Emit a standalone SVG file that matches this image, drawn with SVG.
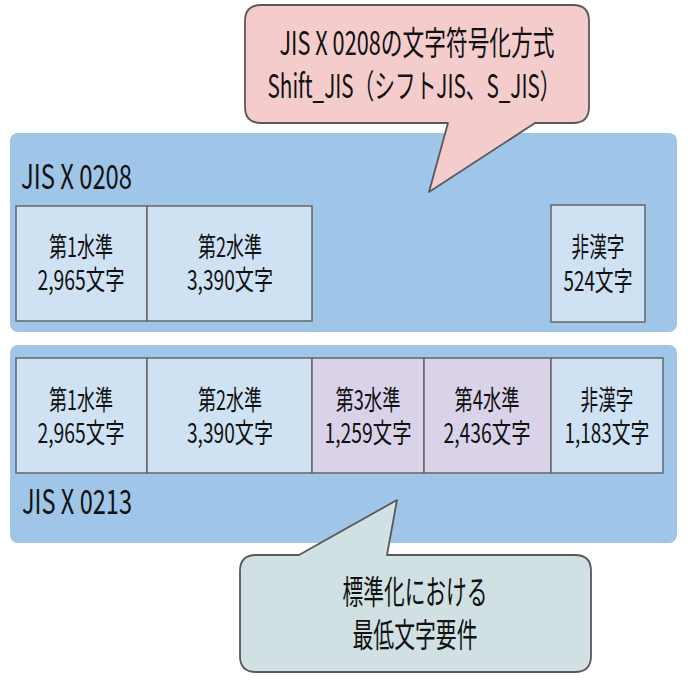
<svg xmlns="http://www.w3.org/2000/svg" width="689" height="689" viewBox="0 0 689 689">
<style>
.panel{fill:#9FC5E8;stroke:none}
.cell{fill:#CFE2F3;stroke:#666666;stroke-width:1.5}
.cell4{fill:#D9D2E9;stroke:#666666;stroke-width:1.5}
.t{font-family:"Noto Sans CJK JP","Noto Sans",sans-serif;fill:#111111;text-anchor:middle}
.cl{font-size:27px}
.lbl{font-size:34px;text-anchor:start}
.co{font-size:33px}
</style>
<rect width="689" height="689" fill="#ffffff"/>
<g id="panel-0208">
<rect class="panel" x="10" y="133" width="667" height="199" rx="8"/>
<text class="t lbl" x="21" y="189" textLength="111" lengthAdjust="spacingAndGlyphs">JIS X 0208</text>
</g>
<g id="cell-0208-1">
<rect class="cell" x="16" y="206" width="131" height="115"/>
<text class="t cl" x="81" y="257" textLength="64" lengthAdjust="spacingAndGlyphs">第1水準</text>
<text class="t cl" x="81" y="290" textLength="87" lengthAdjust="spacingAndGlyphs">2,965文字</text>
</g>
<g id="cell-0208-2">
<rect class="cell" x="147" y="206" width="165" height="115"/>
<text class="t cl" x="230" y="257" textLength="64" lengthAdjust="spacingAndGlyphs">第2水準</text>
<text class="t cl" x="230" y="290" textLength="86" lengthAdjust="spacingAndGlyphs">3,390文字</text>
</g>
<g id="cell-0208-nk">
<rect class="cell" x="551" y="205" width="94" height="117"/>
<text class="t cl" x="598" y="257" textLength="53" lengthAdjust="spacingAndGlyphs">非漢字</text>
<text class="t cl" x="598" y="291" textLength="69" lengthAdjust="spacingAndGlyphs">524文字</text>
</g>
<g id="panel-0213">
<rect class="panel" x="10" y="345" width="667" height="198" rx="8"/>
<text class="t lbl" x="22" y="514" textLength="110" lengthAdjust="spacingAndGlyphs">JIS X 0213</text>
</g>
<g id="cell-0213-1">
<rect class="cell" x="16" y="358" width="131" height="115"/>
<text class="t cl" x="81" y="410" textLength="64" lengthAdjust="spacingAndGlyphs">第1水準</text>
<text class="t cl" x="81" y="443" textLength="87" lengthAdjust="spacingAndGlyphs">2,965文字</text>
</g>
<g id="cell-0213-2">
<rect class="cell" x="147" y="358" width="165" height="115"/>
<text class="t cl" x="230" y="410" textLength="64" lengthAdjust="spacingAndGlyphs">第2水準</text>
<text class="t cl" x="230" y="443" textLength="86" lengthAdjust="spacingAndGlyphs">3,390文字</text>
</g>
<g id="cell-0213-3">
<rect class="cell4" x="312" y="358" width="112" height="115"/>
<text class="t cl" x="368" y="410" textLength="65" lengthAdjust="spacingAndGlyphs">第3水準</text>
<text class="t cl" x="368" y="443" textLength="87" lengthAdjust="spacingAndGlyphs">1,259文字</text>
</g>
<g id="cell-0213-4">
<rect class="cell4" x="424" y="358" width="127" height="115"/>
<text class="t cl" x="487" y="410" textLength="65" lengthAdjust="spacingAndGlyphs">第4水準</text>
<text class="t cl" x="487" y="443" textLength="87" lengthAdjust="spacingAndGlyphs">2,436文字</text>
</g>
<g id="cell-0213-nk">
<rect class="cell" x="551" y="358" width="112" height="115"/>
<text class="t cl" x="607" y="410" textLength="53" lengthAdjust="spacingAndGlyphs">非漢字</text>
<text class="t cl" x="607" y="443" textLength="85" lengthAdjust="spacingAndGlyphs">1,183文字</text>
</g>
<g id="callout-sjis">
<path d="M261,5 H573 Q589,5 589,21 V107 Q589,123 573,123 H535 L429,192 L448,123 H261 Q245,123 245,107 V21 Q245,5 261,5 Z" fill="#F4CCCC" stroke="#595959" stroke-width="1.8" stroke-linejoin="round"/>
<text class="t co" x="417" y="55" textLength="275" lengthAdjust="spacingAndGlyphs">JIS X 0208の文字符号化方式</text>
<text class="t co" x="414" y="98" textLength="293" lengthAdjust="spacingAndGlyphs">Shift_JIS（シフトJIS、S_JIS）</text>
</g>
<g id="callout-min">
<path d="M256,555 H299 L397,500 L387,555 H575 Q591,555 591,571 V656 Q591,672 575,672 H256 Q240,672 240,656 V571 Q240,555 256,555 Z" fill="#D0E0E3" stroke="#595959" stroke-width="1.8" stroke-linejoin="round"/>
<text class="t co" x="415" y="604" textLength="145" lengthAdjust="spacingAndGlyphs">標準化における</text>
<text class="t co" x="415" y="647" textLength="125" lengthAdjust="spacingAndGlyphs">最低文字要件</text>
</g>
</svg>
